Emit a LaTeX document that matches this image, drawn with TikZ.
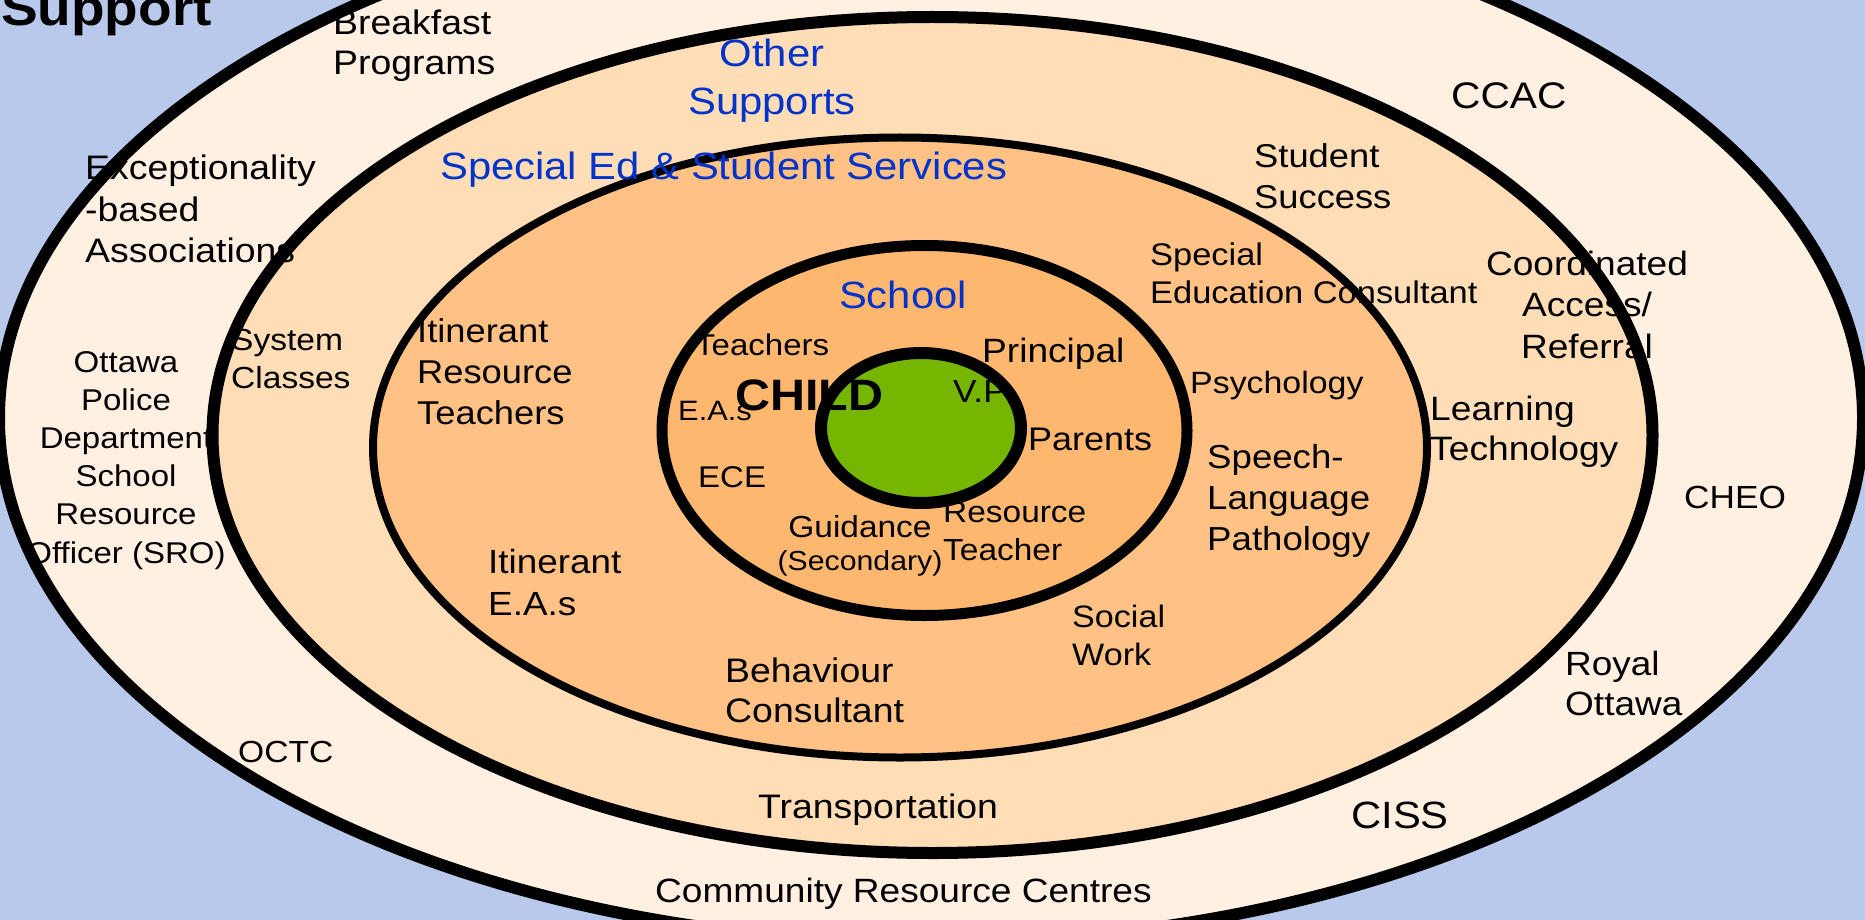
\documentclass[tikz,border=0pt]{standalone}
\usepackage{fontspec}
\setmainfont{Liberation Sans}[FakeStretch=1.1]
\definecolor{bgblue}{RGB}{184,201,236}
\definecolor{ringone}{RGB}{255,240,225}
\definecolor{ringtwo}{RGB}{255,221,182}
\definecolor{rthreeout}{RGB}{255,212,164}
\definecolor{rthreein}{RGB}{255,194,132}
\definecolor{schoolfill}{RGB}{254,183,110}
\definecolor{childgreen}{RGB}{118,182,0}
\definecolor{txtblue}{RGB}{0,51,204}
\pgfdeclareradialshading{ringthree}{\pgfpoint{0bp}{0bp}}{color(0bp)=(rthreein); color(25bp)=(rthreein); color(50bp)=(rthreeout); color(75bp)=(rthreeout)}
\newcommand{\fsz}[2]{\fontsize{#1}{#2}\selectfont}
\newcommand{\mlines}[2]{\begin{tabular}[t]{@{}#1@{}}#2\end{tabular}}
\tikzset{
  lbl/.style={inner sep=0pt, text=black},
  blbl/.style={inner sep=0pt, text=txtblue},
  ring/.style={draw=black}
}
\begin{document}
\begin{tikzpicture}[x=1pt,y=-1pt]
\useasboundingbox (0,0) rectangle (1865,920);
\clip (0,0) rectangle (1865,920);
\fill[bgblue] (0,0) rectangle (1865,920);
% rings
\filldraw[ring, fill=ringone, line width=12pt] (931,418) ellipse [x radius=932pt, y radius=525pt];
\filldraw[ring, fill=ringtwo, line width=12pt] (932.5,435) ellipse [x radius=720pt, y radius=418pt];
\shade[shading=ringthree] (900,447.5) ellipse [x radius=527pt, y radius=310pt];
\draw[ring, line width=8pt] (900,447.5) ellipse [x radius=527pt, y radius=310pt];
\filldraw[ring, fill=schoolfill, line width=11pt] (924.5,430.5) ellipse [x radius=262.5pt, y radius=185pt];
\filldraw[ring, fill=childgreen, line width=12pt] (921,428) ellipse [x radius=100pt, y radius=75pt];
% labels
\node[lbl, font=\fsz{50}{60}\bfseries, anchor=base east] (support) at (212,26) {Support};
\node[lbl, font=\fsz{34}{40}, anchor=base west] (breakfast) at (333,35) {\mlines{l}{Breakfast\\Programs}};
\node[blbl, font=\fsz{38}{48}, anchor=base] (other) at (772,67) {\mlines{c}{Other\\Supports}};
\node[blbl, font=\fsz{38}{46}, anchor=base west] (specedss) at (440,180) {Special Ed \& Student Services};
\node[blbl, font=\fsz{38}{46}, anchor=base] (school) at (903,308) {School};
\node[lbl, font=\fsz{37}{44}, anchor=base west] (ccac) at (1451,109) {CCAC};
\node[lbl, font=\fsz{33}{40}, anchor=base west] (success) at (1254,168) {\mlines{l}{Student\\Success}};
\node[lbl, font=\fsz{34}{41.5}, anchor=base west] (except) at (85,180) {\mlines{l}{Exceptionality\\-based\\Associations}};
\node[lbl, font=\fsz{30}{38.2}, anchor=base] (police) at (126,372) {\mlines{c}{Ottawa\\Police\\Department\\School\\Resource\\Officer (SRO)}};
\node[lbl, font=\fsz{30.5}{38}, anchor=base west] (system) at (231,350) {\mlines{l}{System\\Classes}};
\node[lbl, font=\fsz{33}{41}, anchor=base west] (itres) at (417,342) {\mlines{l}{Itinerant\\Resource\\Teachers}};
\node[lbl, font=\fsz{33.5}{42}, anchor=base west] (itea) at (488,573) {\mlines{l}{Itinerant\\E.A.s}};
\node[lbl, font=\fsz{34}{40}, anchor=base west] (behav) at (725,682) {\mlines{l}{Behaviour\\Consultant}};
\node[lbl, font=\fsz{34}{40}, anchor=base west] (transp) at (758,818) {Transportation};
\node[lbl, font=\fsz{33.7}{40}, anchor=base west] (community) at (655,902) {Community Resource Centres};
\node[lbl, font=\fsz{30.5}{37}, anchor=base west] (octc) at (238,762) {OCTC};
\node[lbl, font=\fsz{38}{45}, anchor=base west] (ciss) at (1351,828) {CISS};
\node[lbl, font=\fsz{33.6}{40}, anchor=base west] (royal) at (1565,675) {\mlines{l}{Royal\\Ottawa}};
\node[lbl, font=\fsz{32}{38}, anchor=base west] (cheo) at (1684,508) {CHEO};
\node[lbl, font=\fsz{31}{38}, anchor=base west] (social) at (1072,627) {\mlines{l}{Social\\Work}};
\node[lbl, font=\fsz{33.8}{40}, anchor=base west] (learning) at (1430,420) {\mlines{l}{Learning\\Technology}};
\node[lbl, font=\fsz{33.7}{41.5}, anchor=base] (coord) at (1587,275) {\mlines{c}{Coordinated\\Access/\\Referral}};
\node[lbl, font=\fsz{31.3}{38}, anchor=base west] (specedc) at (1150,265) {\mlines{l}{Special\\Education Consultant}};
\node[lbl, font=\fsz{30.8}{37}, anchor=base west] (psych) at (1190,393) {Psychology};
\node[lbl, font=\fsz{33.3}{41}, anchor=base west] (speech) at (1207,468) {\mlines{l}{Speech-\\Language\\Pathology}};
\node[lbl, font=\fsz{30}{36}, anchor=base west] (teachers) at (695,355) {Teachers};
\node[lbl, font=\fsz{33.7}{40}, anchor=base west] (principal) at (982,362) {Principal};
\node[lbl, font=\fsz{44}{52}\bfseries, anchor=base west] (child) at (735,410) {CHILD};
\node[lbl, font=\fsz{28}{34}, anchor=base west] (eas) at (678,420) {E.A.s};
\node[lbl, font=\fsz{32}{38}, anchor=base west] (vp) at (953,402) {V.P};
\node[lbl, font=\fsz{32.7}{39}, anchor=base west] (parents) at (1028,450) {Parents};
\node[lbl, font=\fsz{30}{36}, anchor=base west] (ece) at (698,487) {ECE};
\node[lbl, font=\fsz{30.4}{36}, anchor=base] (guidance) at (860,537) {Guidance};
\node[lbl, font=\fsz{27.5}{33}, anchor=base] (secondary) at (860,570) {(Secondary)};
\node[lbl, font=\fsz{30.4}{38}, anchor=base west] (resteach) at (943,522) {\mlines{l}{Resource\\Teacher}};
\end{tikzpicture}
\end{document}
